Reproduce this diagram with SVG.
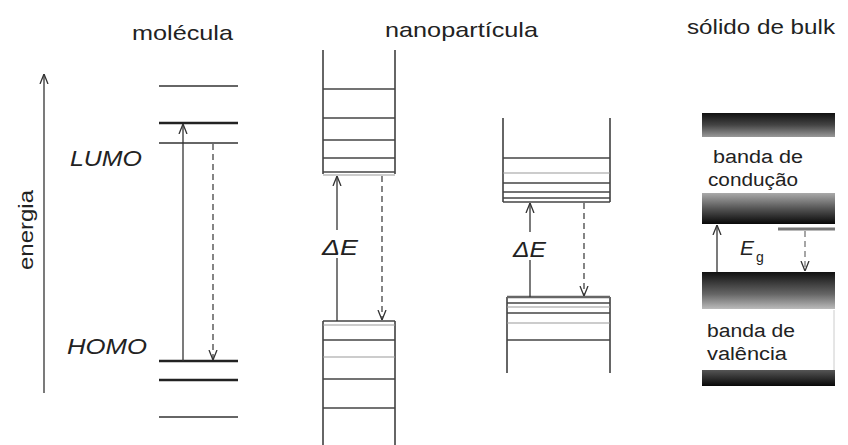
<svg xmlns="http://www.w3.org/2000/svg" width="848" height="445" viewBox="0 0 848 445">
<defs>
<marker id="ah" viewBox="0 0 10 10" refX="10" refY="5" markerWidth="10" markerHeight="10" markerUnits="userSpaceOnUse" orient="auto">
<path d="M0,1 L10,5 L0,9" fill="none" stroke="#333" stroke-width="1.3"/>
</marker>
<linearGradient id="gTop" x1="0" y1="0" x2="0" y2="1">
<stop offset="0" stop-color="#111"/><stop offset="0.5" stop-color="#444"/><stop offset="1" stop-color="#999"/>
</linearGradient>
<linearGradient id="gBot" x1="0" y1="0" x2="0" y2="1">
<stop offset="0" stop-color="#aaa"/><stop offset="0.5" stop-color="#555"/><stop offset="1" stop-color="#080808"/>
</linearGradient>
<linearGradient id="gVTop" x1="0" y1="0" x2="0" y2="1">
<stop offset="0" stop-color="#111"/><stop offset="0.6" stop-color="#666"/><stop offset="1" stop-color="#bbb"/>
</linearGradient>
<linearGradient id="gVBot" x1="0" y1="0" x2="0" y2="1">
<stop offset="0" stop-color="#555"/><stop offset="1" stop-color="#080808"/>
</linearGradient>
</defs>
<style>
text{font-family:"Liberation Sans",Arial,sans-serif;fill:#222}
.t{font-size:21px}
.it{font-style:italic;font-size:22px}
.lv{stroke:#333;stroke-width:1.5}
.lvt{stroke:#222;stroke-width:2.5}
.wall{stroke:#666;stroke-width:2;fill:none}
.nl{stroke:#444;stroke-width:1.5}
.nlt{stroke:#999;stroke-width:1.2}
.arr{stroke:#333;stroke-width:1.3;fill:none;marker-end:url(#ah)}
.dash{stroke:#444;stroke-width:1.3;fill:none;stroke-dasharray:6,4;marker-end:url(#ah)}
.bt{font-size:18px}
</style>
<rect width="848" height="445" fill="#fff"/>

<g id="titles">
<text class="t" x="132" y="40" textLength="101" lengthAdjust="spacingAndGlyphs">molécula</text>
<text class="t" x="385" y="37" textLength="153" lengthAdjust="spacingAndGlyphs">nanopartícula</text>
<text class="t" x="687" y="34" textLength="148" lengthAdjust="spacingAndGlyphs">sólido de bulk</text>
</g>

<g id="energy-axis">
<line x1="44" y1="393" x2="44" y2="74" class="arr"/>
<text class="t" transform="translate(33,270) rotate(-90)" textLength="80" lengthAdjust="spacingAndGlyphs">energia</text>
</g>

<g id="molecule">
<line x1="159" y1="86" x2="238" y2="86" class="lv"/>
<line x1="159" y1="123" x2="238" y2="123" class="lvt"/>
<line x1="159" y1="143" x2="238" y2="143" class="lv"/>
<line x1="159" y1="361" x2="238" y2="361" class="lvt"/>
<line x1="159" y1="380" x2="238" y2="380" class="lvt"/>
<line x1="159" y1="417" x2="238" y2="417" class="lv"/>
<text class="it" x="70" y="166" textLength="72" lengthAdjust="spacingAndGlyphs">LUMO</text>
<text class="it" x="67" y="354" textLength="80" lengthAdjust="spacingAndGlyphs">HOMO</text>
</g>

<g id="nanoparticle-large">
<line x1="323" y1="50" x2="323" y2="174" class="wall"/>
<line x1="395" y1="50" x2="395" y2="174" class="wall"/>
<line x1="323" y1="89" x2="395" y2="89" class="nl"/>
<line x1="323" y1="118" x2="395" y2="118" class="nl"/>
<line x1="323" y1="140" x2="395" y2="140" class="nl"/>
<line x1="323" y1="158" x2="395" y2="158" class="nl"/>
<line x1="323" y1="172" x2="395" y2="172" class="nl"/>
<line x1="323" y1="175" x2="395" y2="175" class="nlt"/>
<line x1="323" y1="321" x2="323" y2="445" class="wall"/>
<line x1="395" y1="321" x2="395" y2="445" class="wall"/>
<line x1="323" y1="321" x2="395" y2="321" class="nl"/>
<line x1="323" y1="325" x2="395" y2="325" class="nlt"/>
<line x1="323" y1="340" x2="395" y2="340" class="nl"/>
<line x1="323" y1="357" x2="395" y2="357" class="nlt"/>
<line x1="323" y1="379" x2="395" y2="379" class="nl"/>
<line x1="323" y1="408" x2="395" y2="408" class="nl"/>
</g>

<g id="nanoparticle-small">
<line x1="503" y1="118" x2="503" y2="202" class="wall"/>
<line x1="610" y1="118" x2="610" y2="202" class="wall"/>
<line x1="503" y1="158" x2="610" y2="158" class="nl"/>
<line x1="503" y1="173" x2="610" y2="173" class="nlt"/>
<line x1="503" y1="183" x2="610" y2="183" class="nl"/>
<line x1="503" y1="192" x2="610" y2="192" class="nl"/>
<line x1="503" y1="198" x2="610" y2="198" class="nl"/>
<line x1="503" y1="202" x2="610" y2="202" class="nl"/>
<line x1="507" y1="297" x2="507" y2="373" class="wall"/>
<line x1="610" y1="297" x2="610" y2="373" class="wall"/>
<line x1="507" y1="297" x2="610" y2="297" class="lvt" style="stroke:#666"/>
<line x1="507" y1="303" x2="610" y2="303" class="nl"/>
<line x1="507" y1="307" x2="610" y2="307" class="nlt"/>
<line x1="507" y1="313" x2="610" y2="313" class="nl"/>
<line x1="507" y1="323" x2="610" y2="323" class="nlt"/>
<line x1="507" y1="340" x2="610" y2="340" class="nl"/>
</g>

<g id="bulk-solid">
<rect x="702" y="113" width="133" height="111" fill="#fff"/>
<rect x="702" y="113" width="133" height="24" fill="url(#gTop)"/>
<rect x="702" y="193" width="133" height="31" fill="url(#gBot)"/>
<text class="bt" x="713" y="163" textLength="90" lengthAdjust="spacingAndGlyphs">banda de</text>
<text class="bt" x="708" y="186" textLength="90" lengthAdjust="spacingAndGlyphs">condução</text>
<rect x="702" y="272" width="133" height="114" fill="#fff"/>
<rect x="702" y="272" width="133" height="37" fill="url(#gVTop)"/>
<rect x="702" y="370" width="133" height="16" fill="url(#gVBot)"/>
<line x1="834" y1="310" x2="834" y2="370" stroke="#ccc" stroke-width="1"/>
<text class="bt" x="707" y="337" textLength="88" lengthAdjust="spacingAndGlyphs">banda de</text>
<text class="bt" x="707" y="360" textLength="80" lengthAdjust="spacingAndGlyphs">valência</text>
<line x1="778" y1="229" x2="835" y2="229" stroke="#777" stroke-width="3"/>
</g>

<g id="connectors">
<line x1="183" y1="361" x2="183" y2="124" class="arr"/>
<line x1="213" y1="144" x2="213" y2="360" class="dash"/>
<line x1="337" y1="321" x2="337" y2="176" class="arr"/>
<line x1="382" y1="176" x2="382" y2="320" class="dash"/>
<line x1="530" y1="297" x2="530" y2="203" class="arr"/>
<line x1="584" y1="203" x2="584" y2="296" class="dash"/>
<line x1="717" y1="272" x2="717" y2="225" class="arr"/>
<line x1="805" y1="231" x2="805" y2="271" class="dash" style="stroke:#777"/>
</g>

<g id="labels">
<rect x="320" y="230" width="40" height="28" fill="#fff"/>
<text class="it" x="322" y="255" textLength="36" lengthAdjust="spacingAndGlyphs">ΔE</text>
<rect x="511" y="232" width="38" height="28" fill="#fff"/>
<text class="it" x="513" y="257" textLength="33" lengthAdjust="spacingAndGlyphs">ΔE</text>
<text class="it" x="740" y="255" style="font-size:21px">E</text>
<text x="756" y="262" style="font-size:14px">g</text>
</g>
</svg>
